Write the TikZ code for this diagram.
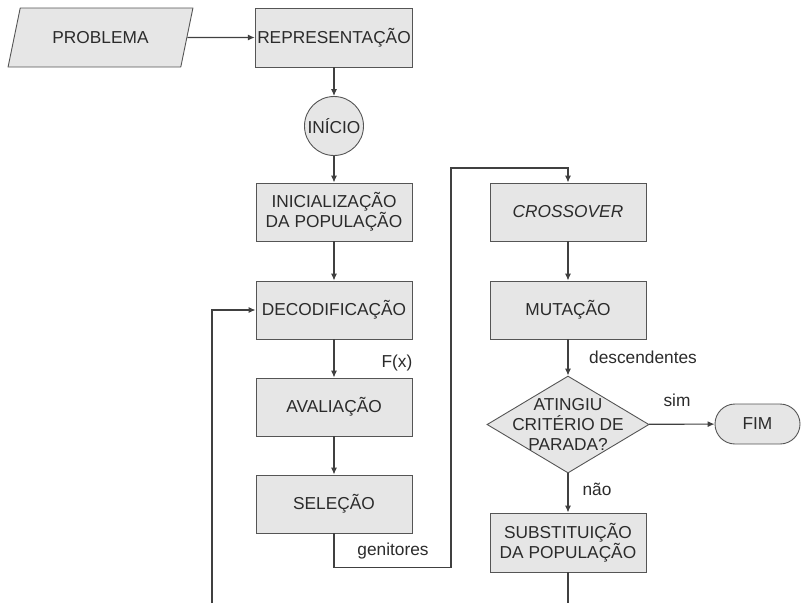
\documentclass[tikz,border=0pt]{standalone}
\usepackage{fontspec}
\setmainfont{Liberation Sans}
\usetikzlibrary{shapes.geometric,arrows.meta}
\definecolor{boxfill}{HTML}{E6E6E6}
\definecolor{boxline}{HTML}{555555}
\definecolor{txt}{HTML}{2B2B2B}
\begin{document}
\begin{tikzpicture}[x=1pt,y=-1pt,
  font=\fontsize{17.3}{20}\selectfont,
  >={Latex[length=7pt,width=6pt]},
  every node/.style={text=txt},
  box/.style={draw=boxline, fill=boxfill, line width=0.9pt, minimum width=156pt, minimum height=58pt, align=center, inner sep=2pt},
  flow/.style={draw=black!75, line width=1.1pt},
  lbl/.style={inner sep=0pt}]
\useasboundingbox (0,0) rectangle (801,603);
% nodes
\node[box, trapezium, trapezium left angle=65, trapezium right angle=115, trapezium stretches=true, minimum width=185pt, minimum height=59pt] (prob) at (100.5,37.5) {PROBLEMA};
\node[box, minimum height=59pt] (rep) at (334,37.5) {REPRESENTAÇÃO};
\node[box, circle, minimum width=59pt, minimum height=59pt, inner sep=0pt] (ini) at (334,126) {INÍCIO};
\node[box] (inic) at (334,212) {INICIALIZAÇÃO\\DA POPULAÇÃO};
\node[box] (dec) at (334,310) {DECODIFICAÇÃO};
\node[box] (aval) at (334,407) {AVALIAÇÃO};
\node[box] (sel) at (334,504) {SELEÇÃO};
\node[box] (cross) at (568,212) {\itshape CROSSOVER};
\node[box] (mut) at (568,310) {MUTAÇÃO};
\node[box, diamond, minimum width=162pt, minimum height=97pt, inner sep=0pt,
  label={[align=center, text=txt]center:ATINGIU\\CRITÉRIO DE\\PARADA?}] (stop) at (568,424.5) {};
\node[box, rounded corners=20pt, minimum width=85pt, minimum height=40pt] (fim) at (757.5,424) {FIM};
\node[box, minimum height=59pt] (subst) at (568,542.5) {SUBSTITUIÇÃO\\DA POPULAÇÃO};
\coordinate (loopin) at (212,603);
\coordinate (subout) at (568,603);
% labels
\node[lbl] (fx) at (397,363) {F(x)};
\node[lbl] (gen) at (393,551) {genitores};
\node[lbl] (desc) at (643,357) {descendentes};
\node[lbl] (sim) at (677,400) {sim};
\node[lbl] (nao) at (597,489) {não};
% connectors
\draw[flow,->] (prob) -- (rep);
\draw[flow,->] (rep) -- (ini);
\draw[flow,->] (ini) -- (inic);
\draw[flow,->] (inic) -- (dec);
\draw[flow,->] (dec) -- (aval);
\draw[flow,->] (aval) -- (sel);
\draw[flow,->] (sel.south) -- ++(0,34) -| (451,168) -| (cross.north);
\draw[flow,->] (cross) -- (mut);
\draw[flow,->] (mut) -- (stop);
\draw[flow,->] (stop) -- (fim);
\draw[flow,->] (stop) -- (subst);
\draw[flow] (subst) -- (subout);
\draw[flow,->] (loopin) |- (dec.west);
\end{tikzpicture}
\end{document}
